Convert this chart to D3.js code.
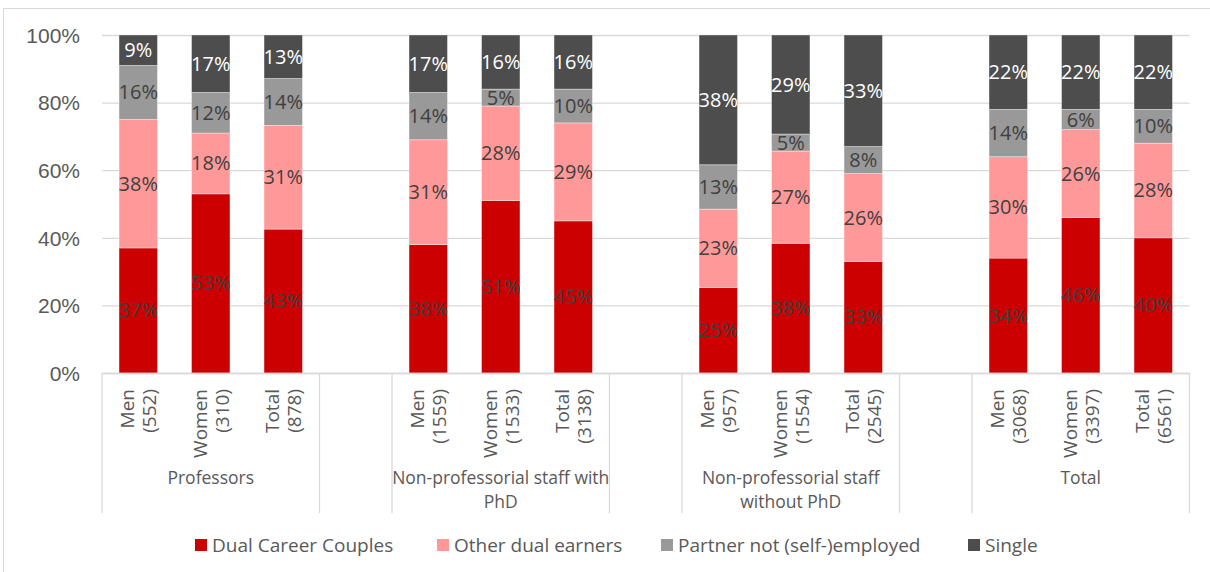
<!DOCTYPE html>
<html>
<head>
<meta charset="utf-8">
<script src="https://cdn.jsdelivr.net/npm/d3@7"></script>
<style>
  html, body { margin: 0; padding: 0; background: #fff; }
  svg { display: block; font-family: "Open Sans", "Noto Sans", sans-serif; }
</style>
</head>
<body>
<svg id="chart" width="1210" height="572"></svg>
<script>
// Staff groups and the three bars shown for each
const groupLines = [
  ["Professors"],
  ["Non-professorial staff with", "PhD"],
  ["Non-professorial staff", "without PhD"],
  ["Total"]
];
const subgroups = ["Men", "Women", "Total"];
const counts = [
  [552, 310, 878],
  [1559, 1533, 3138],
  [957, 1554, 2545],
  [3068, 3397, 6561]
];

// Share of each household type (%), bars in order Men/Women/Total per group
const seriesNames = ["Dual Career Couples", "Other dual earners", "Partner not (self-)employed", "Single"];
const dualCareer = [37, 53, 43, 38, 51, 45, 25, 38, 33, 34, 46, 40];
const otherDual  = [38, 18, 31, 31, 28, 29, 23, 27, 26, 30, 26, 28];
const partnerNot = [16, 12, 14, 14, 5, 10, 13, 5, 8, 14, 6, 10];
const single     = [9, 17, 13, 17, 16, 16, 38, 29, 33, 22, 22, 22];
const yTicks = [0, 20, 40, 60, 80, 100];

const colors = ["#cc0000", "#ff9999", "#999999", "#4d4d4d"];
const labelColors = ["#404040", "#404040", "#404040", "#ffffff"];
const seriesValues = [dualCareer, otherDual, partnerNot, single];

// Build rows; a blank slot separates consecutive groups
const rows = [];
const slots = [];
groupLines.forEach((g, gi) => {
  subgroups.forEach((s, si) => {
    const idx = gi * 3 + si;
    const key = `b${idx}`;
    const row = { key, group: gi, sub: s, n: counts[gi][si] };
    seriesNames.forEach((name, k) => { row[name] = seriesValues[k][idx]; });
    rows.push(row);
    slots.push(key);
  });
  if (gi < groupLines.length - 1) slots.push(`gap${gi}`);
});

const svg = d3.select("#chart");
const plotLeft = 102, plotRight = 1189.5, plotTop = 35, plotBottom = 373;
const grid = "#d9d9d9";
const textCol = "#595959";

// Outer chart frame
svg.append("rect")
  .attr("x", 3.5).attr("y", 8.5)
  .attr("width", 1300).attr("height", 700)
  .attr("fill", "none").attr("stroke", grid).attr("stroke-width", 1);

const x = d3.scaleBand().domain(slots).range([plotLeft, plotRight]).padding(0);
const y = d3.scaleLinear().domain([0, 100]).range([plotBottom, plotTop]);

// Gridlines and y-axis labels
const yAxis = d3.axisLeft(y).tickValues(yTicks).tickFormat(d => d + "%")
  .tickSize(-(plotRight - plotLeft)).tickPadding(22);
const gy = svg.append("g").attr("transform", `translate(${plotLeft},0)`).call(yAxis);
gy.select(".domain").remove();
gy.selectAll(".tick line").attr("stroke", grid).attr("stroke-width", 1.3);
gy.selectAll(".tick text").attr("fill", textCol).style("font-size", "21px")
  .attr("dy", "0.35em");

// Stacked bars, normalised to 100%
const stack = d3.stack().keys(seriesNames).offset(d3.stackOffsetExpand);
const layers = stack(rows);
const barW = x.bandwidth() * 0.53;

const layerG = svg.append("g").selectAll("g").data(layers).join("g")
  .attr("fill", (d, i) => colors[i]);

layerG.selectAll("rect").data(d => d).join("rect")
  .attr("x", d => x(d.data.key) + (x.bandwidth() - barW) / 2)
  .attr("width", barW)
  .attr("y", d => y(d[1] * 100))
  .attr("height", d => y(d[0] * 100) - y(d[1] * 100))
  .attr("stroke", "#ffffff").attr("stroke-opacity", 0.45).attr("stroke-width", 0.8);

// Value labels centred in each segment
layers.forEach((layer, i) => {
  svg.append("g").selectAll("text").data(layer).join("text")
    .attr("x", d => x(d.data.key) + x.bandwidth() / 2)
    .attr("y", d => y((d[0] + d[1]) / 2 * 100))
    .attr("dy", "0.35em")
    .attr("text-anchor", "middle")
    .attr("fill", labelColors[i])
    .style("font-size", "20px")
    .text(d => d.data[layer.key] + "%");
});

// Category axis line
svg.append("line").attr("x1", plotLeft).attr("x2", plotRight)
  .attr("y1", plotBottom + 0.5).attr("y2", plotBottom + 0.5)
  .attr("stroke", grid).attr("stroke-width", 1.3);

// Two-line rotated bar labels
rows.forEach(r => {
  const cx = x(r.key) + x.bandwidth() / 2;
  const t = svg.append("text")
    .attr("transform", `translate(${cx},389) rotate(-90)`)
    .attr("text-anchor", "end")
    .attr("fill", textCol)
    .style("font-size", "19px");
  t.append("tspan").attr("x", 0).attr("y", -11 + 7).text(r.sub);
  t.append("tspan").attr("x", 0).attr("y", 11 + 7).text(`(${r.n})`);
});

// Group separators and group names
groupLines.forEach((lines, gi) => {
  const x0 = x(`b${gi * 3}`);
  const x1 = x(`b${gi * 3 + 2}`) + x.bandwidth();
  [x0, x1].forEach(xx => {
    svg.append("line").attr("x1", xx).attr("x2", xx)
      .attr("y1", plotBottom).attr("y2", 513)
      .attr("stroke", grid).attr("stroke-width", 1.3);
  });
  lines.forEach((ln, li) => {
    svg.append("text").attr("text-anchor", "middle")
      .attr("fill", textCol).style("font-size", "17.5px")
      .attr("x", (x0 + x1) / 2).attr("y", 484 + li * 24).text(ln);
  });
});

// Legend
const legendX = [195, 437, 661, 968];
const legend = svg.append("g").selectAll("g").data(seriesNames).join("g")
  .attr("transform", (d, i) => `translate(${legendX[i]},545)`);
legend.append("rect").attr("x", 0).attr("y", -6).attr("width", 12).attr("height", 12)
  .attr("fill", (d, i) => colors[i]);
legend.append("text").attr("x", 17).attr("dy", "0.35em")
  .attr("fill", textCol).style("font-size", "19px").text(d => d);
</script>
</body>
</html>
